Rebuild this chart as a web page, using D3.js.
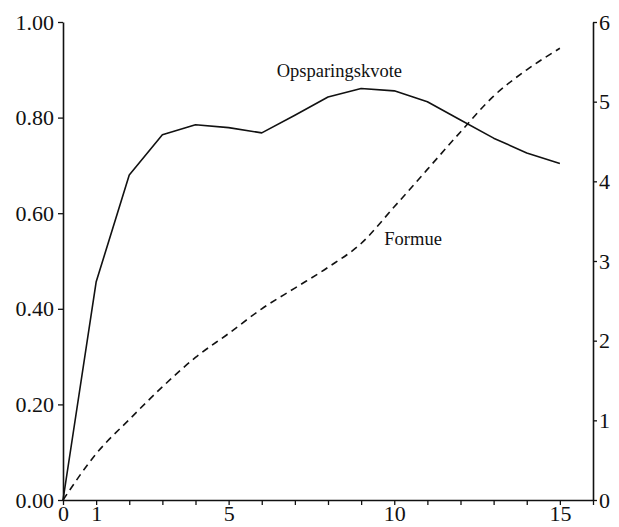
<!DOCTYPE html>
<html>
<head>
<meta charset="utf-8">
<script src="https://cdn.jsdelivr.net/npm/d3@7"></script>
<style>
  html, body { margin: 0; padding: 0; background: #fff; }
  svg text { font-family: "Liberation Serif", "Times New Roman", serif; fill: #111; }
</style>
</head>
<body>
<svg id="chart" width="619" height="527"></svg>
<script>
// Years after the start (horizontal axis)
const years = [0, 1, 2, 3, 4, 5, 6, 7, 8, 9, 10, 11, 12, 13, 14, 15];
// Savings ratio, left axis
const opsparingskvote = [0, 0.456, 0.68, 0.764, 0.785, 0.779, 0.768, 0.805, 0.843, 0.861, 0.856, 0.833, 0.795, 0.757, 0.726, 0.704];
// Wealth, right axis
const formue = [0, 0.58, 1.01, 1.42, 1.79, 2.09, 2.40, 2.66, 2.92, 3.22, 3.68, 4.15, 4.62, 5.07, 5.40, 5.67];

const xTicks = d3.range(0, 17);
const xLabels = [0, 1, 5, 10, 15];
const leftTicks = [0, 0.2, 0.4, 0.6, 0.8, 1.0];
const rightTicks = [0, 1, 2, 3, 4, 5, 6];

const svg = d3.select("#chart");
const ink = "#111";

const x = d3.scaleLinear().domain([0, 16]).range([63, 593]);
const yL = d3.scaleLinear().domain([0, 1]).range([500, 22]);
const yR = d3.scaleLinear().domain([0, 6]).range([500, 22]);

function styleAxis(g) {
  g.selectAll("path.domain").attr("stroke", ink).attr("stroke-width", 1.6);
  g.selectAll(".tick line").attr("stroke", ink).attr("stroke-width", 1.3);
  g.selectAll(".tick text").style("font-size", "22px").attr("fill", ink);
  g.attr("font-family", null).attr("font-size", null);
}

// Bottom axis: a tick at every year, labels on a few
svg.append("g")
  .attr("transform", `translate(0,${yL(0)})`)
  .call(d3.axisBottom(x).tickValues(xTicks).tickSize(5).tickSizeOuter(0).tickPadding(0)
    .tickFormat(d => xLabels.includes(d) ? String(d) : ""))
  .call(styleAxis);

// Left axis: savings ratio
svg.append("g")
  .attr("transform", `translate(${x(0)},0)`)
  .call(d3.axisLeft(yL).tickValues(leftTicks).tickSize(5).tickSizeOuter(0).tickPadding(4)
    .tickFormat(d3.format(".2f")))
  .call(styleAxis);

// Right axis: wealth
svg.append("g")
  .attr("transform", `translate(${x(16)},0)`)
  .call(d3.axisRight(yR).tickValues(rightTicks).tickSize(4).tickSizeOuter(0).tickPadding(2)
    .tickFormat(d3.format("d")))
  .call(styleAxis);

// Savings ratio (solid)
const lineL = d3.line().x((d, i) => x(years[i])).y(d => yL(d));
svg.append("path")
  .datum(opsparingskvote)
  .attr("d", lineL)
  .attr("fill", "none")
  .attr("stroke", ink)
  .attr("stroke-width", 1.6)
  .attr("stroke-linejoin", "round");

// Wealth (dashed)
const lineR = d3.line().x((d, i) => x(years[i])).y(d => yR(d)).curve(d3.curveMonotoneX);
svg.append("path")
  .datum(formue)
  .attr("d", lineR)
  .attr("fill", "none")
  .attr("stroke", ink)
  .attr("stroke-width", 1.6)
  .attr("stroke-dasharray", "7,5");

// Series labels
svg.append("text")
  .attr("x", x(6.45)).attr("y", yL(0.885))
  .style("font-size", "18.5px")
  .text("Opsparingskvote");

svg.append("text")
  .attr("x", x(9.7)).attr("y", yR(3.2))
  .style("font-size", "18.5px")
  .text("Formue");
</script>
</body>
</html>
